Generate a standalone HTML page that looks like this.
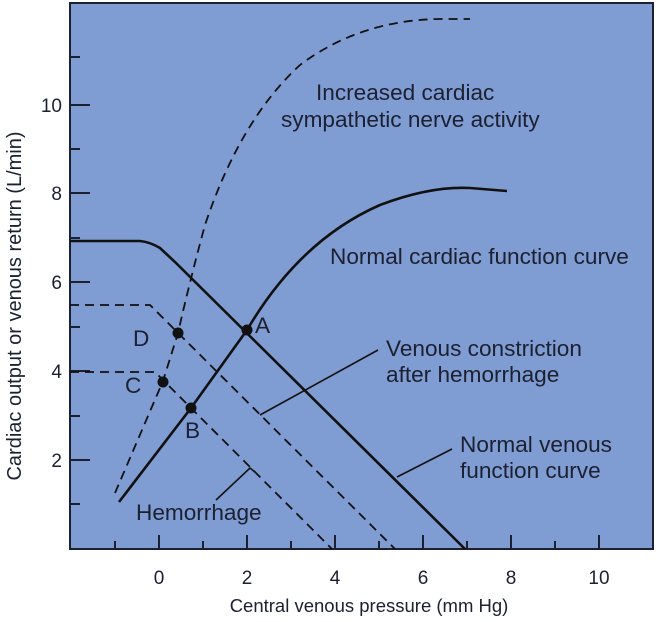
<!DOCTYPE html>
<html><head><meta charset="utf-8"><style>
html,body{margin:0;padding:0;background:#fff}
svg{display:block}
text{font-family:"Liberation Sans",sans-serif;fill:#1c2030}
</style></head><body>
<svg width="659" height="622" viewBox="0 0 659 622">
<rect x="70" y="3" width="583" height="546" fill="#7f9cd3" stroke="#1c2030" stroke-width="2"/>
<g stroke="#1c2030" stroke-width="2">
<line x1="70" y1="460" x2="90" y2="460"/><line x1="70" y1="371" x2="90" y2="371"/><line x1="70" y1="282" x2="90" y2="282"/><line x1="70" y1="193" x2="90" y2="193"/><line x1="70" y1="105" x2="90" y2="105"/>
<line x1="70" y1="504" x2="80" y2="504"/><line x1="70" y1="416" x2="80" y2="416"/><line x1="70" y1="327" x2="80" y2="327"/><line x1="70" y1="238" x2="80" y2="238"/><line x1="70" y1="149" x2="80" y2="149"/><line x1="70" y1="57" x2="80" y2="57"/>
<line x1="159" y1="549" x2="159" y2="535"/><line x1="247" y1="549" x2="247" y2="535"/><line x1="335" y1="549" x2="335" y2="535"/><line x1="423" y1="549" x2="423" y2="535"/><line x1="511" y1="549" x2="511" y2="535"/><line x1="599" y1="549" x2="599" y2="535"/>
<line x1="115" y1="549" x2="115" y2="541"/><line x1="203" y1="549" x2="203" y2="541"/><line x1="291" y1="549" x2="291" y2="541"/><line x1="379" y1="549" x2="379" y2="541"/><line x1="467" y1="549" x2="467" y2="541"/><line x1="555" y1="549" x2="555" y2="541"/>
</g>
<g fill="none" stroke="#111" stroke-width="2.6">
<path d="M70 241 L140 241 Q150 242 160 248 L175 262 L465 549"/>
<path d="M119 502 L191 408 L247 330 Q300 240 380 205 Q430 186 470 188 L507 191"/>
</g>
<g fill="none" stroke="#111" stroke-width="1.8" stroke-dasharray="9,6">
<path d="M115 493 L163 381 L178 333 Q190 280 205 225 Q240 120 300 65 Q360 20 440 19 L470 19"/>
<path d="M70 305 L150 305 L395 549"/>
<path d="M70 372 L155 372 L332 549"/>
</g>
<g stroke="#111" stroke-width="1.6">
<line x1="260" y1="415" x2="378" y2="350"/>
<line x1="397" y1="477" x2="452" y2="449"/>
<polyline fill="none" points="216,500 250,468 255,472"/>
</g>
<g fill="#111">
<circle cx="178" cy="333" r="5.5"/><circle cx="163" cy="382" r="5.5"/><circle cx="191" cy="408" r="5.5"/><circle cx="247" cy="330" r="5.5"/>
</g>
<g font-size="22.6">
<text x="133" y="346">D</text><text x="125" y="393">C</text><text x="185" y="438">B</text><text x="255" y="333">A</text>
<text x="316" y="100">Increased cardiac</text>
<text x="281" y="127">sympathetic nerve activity</text>
<text x="330" y="264">Normal cardiac function curve</text>
<text x="386" y="356">Venous constriction</text>
<text x="386" y="382">after hemorrhage</text>
<text x="460" y="452">Normal venous</text>
<text x="460" y="478">function curve</text>
<text x="136" y="520">Hemorrhage</text>
</g>
<g font-size="19">
<g text-anchor="middle">
<text x="159" y="584">0</text><text x="247" y="584">2</text><text x="335" y="584">4</text><text x="423" y="584">6</text><text x="511" y="584">8</text><text x="599" y="584">10</text>
<text x="369" y="612" font-size="18.5">Central venous pressure (mm Hg)</text>
</g>
<g text-anchor="end">
<text x="62" y="467">2</text><text x="62" y="378">4</text><text x="62" y="289">6</text><text x="62" y="200">8</text><text x="62" y="112">10</text>
</g>
<text transform="translate(21,306) rotate(-90)" text-anchor="middle" font-size="20">Cardiac output or venous return (L/min)</text>
</g>
</svg>
</body></html>
